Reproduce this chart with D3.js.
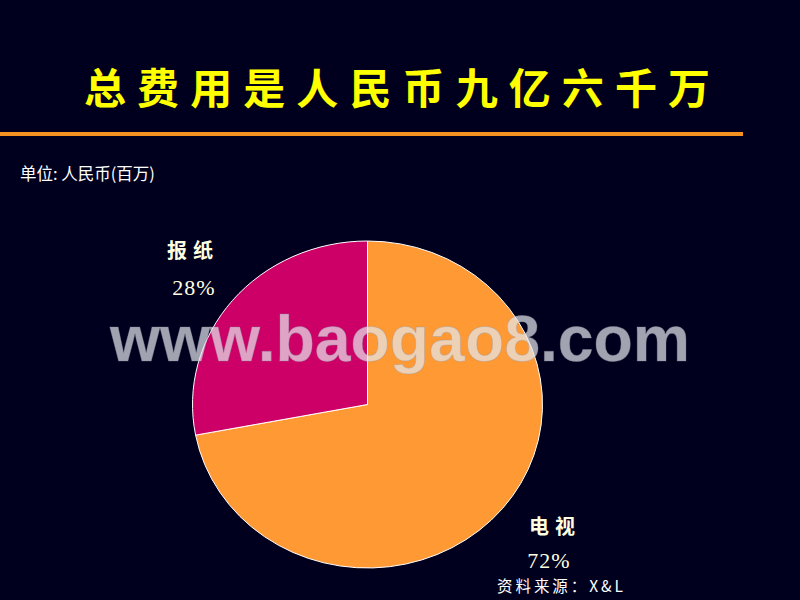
<!DOCTYPE html>
<html><head><meta charset="utf-8">
<script src="https://cdn.jsdelivr.net/npm/d3@7"></script>
<style>html,body{margin:0;padding:0;background:#00001E;}svg{display:block;}</style>
</head><body><div id="chart"></div>
<script>
const categories = ["电视", "报纸"];
const values = [72, 28];
const pctLabels = ["72%", "28%"];
const colors = ["#FF9933", "#CC0066"];
const title = "总费用是人民币九亿六千万";
const unitText = "单位: 人民币(百万)";
const sourceText = "资料来源：X&L";
const watermark = "www.baogao8.com";

const W = 800, H = 600;
const svg = d3.select("#chart").append("svg").attr("width", W).attr("height", H);
svg.append("rect").attr("width", W).attr("height", H).attr("fill", "#00001E");

svg.append("text").attr("x", 84).attr("y", 104)
  .attr("textLength", 626).attr("lengthAdjust", "spacing")
  .style("font-family", "'Noto Sans CJK SC'").style("font-weight", 700)
  .style("font-size", "42px").attr("fill", "#FFFF00").text(title);

svg.append("rect").attr("x", 0).attr("y", 132).attr("width", 743).attr("height", 4).attr("fill", "#F39121");

svg.append("text").attr("x", 20).attr("y", 180)
  .style("font-family", "'Noto Sans CJK SC', 'Liberation Sans'").style("font-size", "16.5px")
  .attr("fill", "#FFFFFF").text(unitText);

// pie
const cx = 367.5, cy = 404.5, rx = 175, ry = 163.5;
const pie = d3.pie().sort(null).value(d => d)(values);
const arc = d3.arc().innerRadius(0).outerRadius(ry);
const g = svg.append("g").attr("transform", `translate(${cx},${cy}) scale(${rx/ry},1)`);
g.selectAll("path").data(pie).join("path")
  .attr("d", arc).attr("fill", (d,i) => colors[i])
  .attr("stroke", "#FFFFFF").attr("stroke-width", 1)
  .attr("vector-effect", "non-scaling-stroke");

// labels
const labelPos = [{x: 555, y: 534, px: 549, py: 568}, {x: 193, y: 258, px: 194, py: 295}];
categories.forEach((c, i) => {
  svg.append("text").attr("x", labelPos[i].x).attr("y", labelPos[i].y)
    .attr("text-anchor", "middle")
    .style("font-family", "'Noto Sans CJK SC'").style("font-weight", 700)
    .style("font-size", "20px").style("letter-spacing", "6px")
    .attr("fill", "#FFFFE0").text(c);
  svg.append("text").attr("x", labelPos[i].px).attr("y", labelPos[i].py)
    .attr("text-anchor", "middle")
    .style("font-family", "'Liberation Serif', 'DejaVu Serif'")
    .style("font-size", "22px").style("letter-spacing", "1px")
    .attr("fill", "#FFFFE0").text(pctLabels[i]);
});

svg.append("text").attr("x", 497).attr("y", 592)
  .attr("textLength", 126).attr("lengthAdjust", "spacing")
  .style("font-family", "'Noto Sans CJK SC', 'Liberation Serif'")
  .style("font-size", "15.5px").attr("fill", "#FFFFFF").text(sourceText);

// watermark
svg.append("text").attr("x", 110).attr("y", 361)
  .attr("textLength", 580).attr("lengthAdjust", "spacingAndGlyphs")
  .style("font-family", "'Liberation Sans', Arial").style("font-weight", 700)
  .style("font-size", "64px").attr("fill", "#E6E8EE").attr("fill-opacity", 0.7)
  .attr("stroke", "#8890A0").attr("stroke-opacity", 0.3).attr("stroke-width", 1)
  .text(watermark);
</script></body></html>
